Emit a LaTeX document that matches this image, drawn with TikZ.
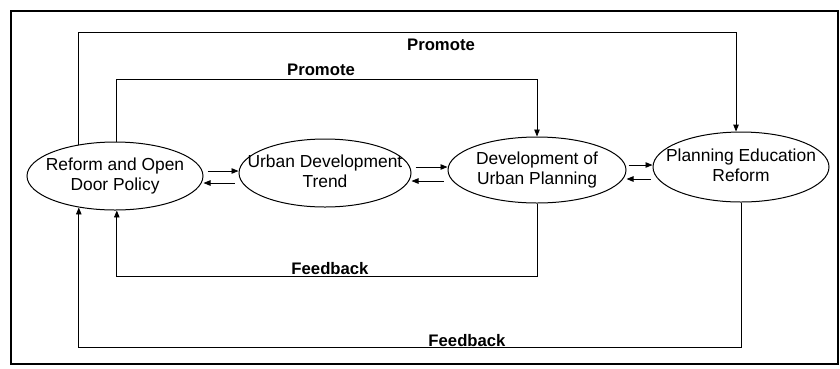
\documentclass[tikz,border=0pt]{standalone}
\usepackage{fontspec}
\setmainfont{Liberation Sans}
\usetikzlibrary{arrows.meta,shapes.geometric}
\newcommand{\ovaltext}[2]{\makebox[0pt][c]{\begin{tabular}{@{}c@{}}#1\\#2\end{tabular}}}
\begin{document}
\begin{tikzpicture}[x=1pt,y=-1pt,
  oval/.style={draw, ellipse, inner sep=0pt, line width=1pt,
    font=\fontsize{17.4}{20}\selectfont},
  conn/.style={line width=0.9pt, -{Triangle[length=7pt,width=5.5pt]}},
  lbl/.style={font=\fontsize{16.7}{20}\selectfont\bfseries, anchor=base, inner sep=0pt}]
\useasboundingbox (0,0) rectangle (840,368);
\draw[line width=1.6pt] (11,11) rectangle (838,364);

\node[oval, minimum width=176pt, minimum height=68pt] (E1) at (115,176) {\ovaltext{Reform and Open}{Door Policy}};
\node[oval, minimum width=172pt, minimum height=68pt] (E2) at (325,173) {\ovaltext{Urban Development}{Trend}};
\node[oval, minimum width=178pt, minimum height=66pt] (E3) at (537,170) {\ovaltext{Development of}{Urban Planning}};
\node[oval, minimum width=176pt, minimum height=70pt] (E4) at (741,167) {\ovaltext{Planning Education}{Reform}};

% horizontal arrow pairs
\draw[conn, shorten <=4pt] (E1.east |- 0,171) -- (E2.west |- 0,171);
\draw[conn, shorten <=4pt] (E2.west |- 0,183) -- (E1.east |- 0,183);
\draw[conn, shorten <=4pt] (E2.east |- 0,167) -- (E3.west |- 0,167);
\draw[conn, shorten <=4pt] (E3.west |- 0,181) -- (E2.east |- 0,181);
\draw[conn, shorten <=2pt] (E3.east |- 0,165) -- (E4.west |- 0,165);
\draw[conn, shorten <=2pt] (E4.west |- 0,179) -- (E3.east |- 0,179);

% promote loops
\draw[conn] (E1.139) |- (E4.98 |- 0,32) -- (E4.98);
\draw[conn] (E1.87) |- (E3.north |- 0,79) -- (E3.north);

% feedback loops
\draw[conn] (E3.south) |- (E1.273 |- 0,276) -- (E1.273);
\draw[conn] (E4.south) |- (E1.221 |- 0,347) -- (E1.221);

% labels
\node[lbl] (P1) at (441,50) {Promote};
\node[lbl] (P2) at (321,75) {Promote};
\node[lbl] (F1) at (330,274) {Feedback};
\node[lbl] (F2) at (467,346) {Feedback};
\end{tikzpicture}
\end{document}
